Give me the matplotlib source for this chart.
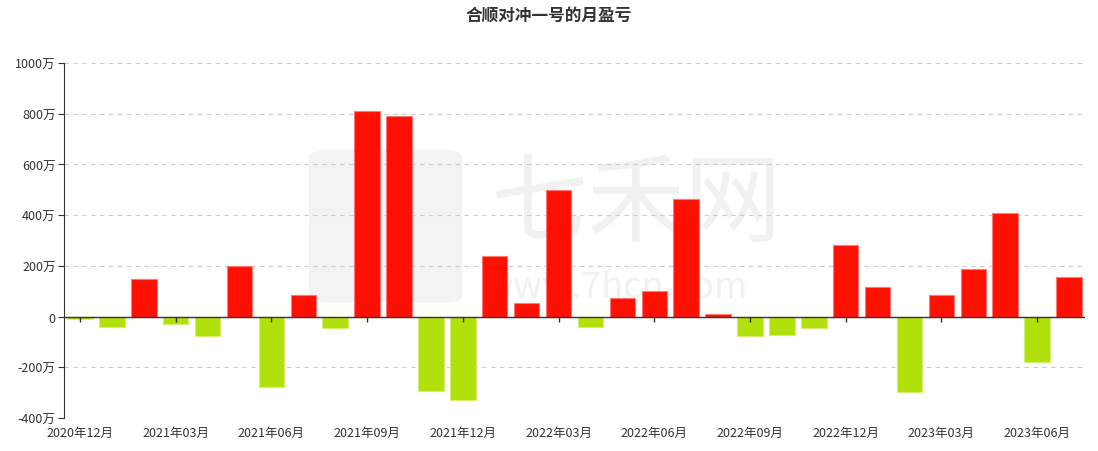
import matplotlib.pyplot as plt
from matplotlib.patches import FancyBboxPatch
import numpy as np

plt.rcParams['font.family'] = ['Noto Sans CJK SC', 'DejaVu Sans']

# 月份
months = ['2020年12月', '2021年01月', '2021年02月', '2021年03月', '2021年04月', '2021年05月',
          '2021年06月', '2021年07月', '2021年08月', '2021年09月', '2021年10月', '2021年11月',
          '2021年12月', '2022年01月', '2022年02月', '2022年03月', '2022年04月', '2022年05月',
          '2022年06月', '2022年07月', '2022年08月', '2022年09月', '2022年10月', '2022年11月',
          '2022年12月', '2023年01月', '2023年02月', '2023年03月', '2023年04月', '2023年05月',
          '2023年06月', '2023年07月']
# 月盈亏 (万)
pnl = [-10, -43, 150, -30, -76, 200, -277, 85, -45, 809, 790, -292,
       -330, 239, 55, 501, -41, 72, 102, 465, 10, -78, -71, -46,
       284, 118, -298, 85, 187, 410, -179, 158]
yticks = [-400, -200, 0, 200, 400, 600, 800, 1000]

x = np.arange(len(months))
colors = ['#ff1000' if v >= 0 else '#b2e00a' for v in pnl]
edges = ['#ff7a70' if v >= 0 else '#d4ee70' for v in pnl]

fig = plt.figure(figsize=(10.98, 4.52), dpi=100)
ax = fig.add_axes([64 / 1098, 1 - 419 / 452, 1021 / 1098, 355 / 452])

# watermark
logo = FancyBboxPatch((0.245, 0.33), 0.14, 0.42, boxstyle='round,pad=0.005,rounding_size=0.02',
                      transform=ax.transAxes, facecolor='#f3f3f3', edgecolor='none', zorder=0)
ax.add_patch(logo)
ax.text(0.56, 0.60, '七禾网', transform=ax.transAxes, fontsize=70, color='#f1f1f1',
        ha='center', va='center', zorder=0)
ax.text(0.54, 0.37, 'www.7hcn.com', transform=ax.transAxes, fontsize=26, color='#f1f1f1',
        ha='center', va='center', zorder=0)

ax.bar(x, pnl, width=0.8, color=colors, edgecolor=edges, linewidth=0.8, zorder=3)

ax.set_xlim(-0.5, len(months) - 0.5)
ax.set_ylim(-400, 1000)
ax.set_yticks(yticks)
ax.set_yticklabels([f'{v}万' if v != 0 else '0' for v in yticks])
ax.yaxis.grid(True, linestyle=(0, (4, 4)), color='#cccccc', linewidth=0.8, zorder=1)

lab_idx = list(range(0, len(months), 3))
ax.set_xticks(lab_idx)
ax.set_xticklabels([months[i] for i in lab_idx])
ax.tick_params(axis='x', length=0, pad=6, labelsize=9, colors='#333333')
ax.tick_params(axis='y', length=4, labelsize=9, colors='#333333', pad=2)

# zero axis line with small ticks
ax.axhline(0, color='#333333', linewidth=1, zorder=4)
ax.vlines(lab_idx, -20, 0, color='#333333', linewidth=1, zorder=4)

for s in ['top', 'right', 'bottom']:
    ax.spines[s].set_visible(False)
ax.spines['left'].set_color('#333333')

fig.suptitle('合顺对冲一号的月盈亏', x=0.5, y=0.985, fontsize=12, fontweight='bold',
             color='#333333', va='top')

fig.savefig('out.png', dpi=100)
